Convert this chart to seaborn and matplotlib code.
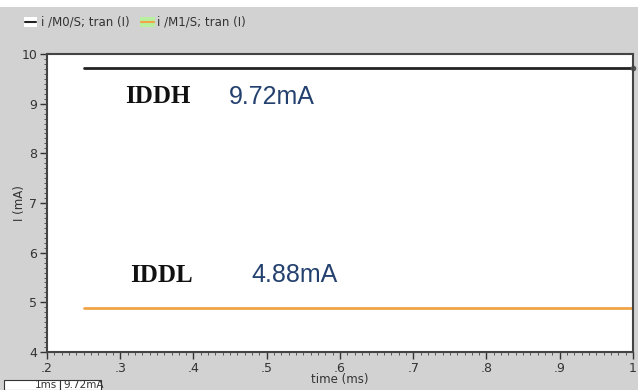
import seaborn as sns
import pandas as pd
import numpy as np
import matplotlib.pyplot as plt
import matplotlib.patches as mpatches

time_ms = [0.25, 1.0]
i_m0 = [9.72, 9.72]
i_m1 = [4.88, 4.88]
series_names = ['i /M0/S; tran (I)', 'i /M1/S; tran (I)']
xtick_vals = [0.2, 0.3, 0.4, 0.5, 0.6, 0.7, 0.8, 0.9, 1.0]
xtick_labels = ['.2', '.3', '.4', '.5', '.6', '.7', '.8', '.9', '1']
ytick_vals = [4, 5, 6, 7, 8, 9, 10]
note_names = ['IDDH', 'IDDL']
note_values = ['9.72mA', '4.88mA']

df = pd.DataFrame({'time': time_ms * 2,
                   'I': i_m0 + i_m1,
                   'sig': [series_names[0]] * 2 + [series_names[1]] * 2})

sns.set_style('ticks')
plt.rcParams['font.family'] = ['DejaVu Sans']
fig = plt.figure(figsize=(6.38, 3.9), dpi=100)
fig.patch.set_facecolor('#d2d2d2')
# white strip at the very top
fig.add_artist(mpatches.Rectangle((0, 1-7/390), 1, 7/390, transform=fig.transFigure,
                                  facecolor='white', edgecolor='none'))
ax = fig.add_axes([47/638, 1-352/390, 586/638, 298/390])
ax.set_facecolor('white')
sns.lineplot(data=df, x='time', y='I', hue='sig',
             palette={series_names[0]: '#222222', series_names[1]: '#f0a448'},
             linewidth=2, legend=False, ax=ax)
ax.plot([1.0], [i_m0[-1]], marker='o', ms=3, color='#555555', clip_on=False)

ax.set_xlim(0.2, 1.0)
ax.set_ylim(4, 10)
ax.set_xticks(xtick_vals)
ax.set_xticklabels(xtick_labels)
ax.set_yticks(ytick_vals)
ax.set_xticks(np.arange(0.2, 1.0001, 0.01), minor=True)
ax.set_yticks(np.arange(4, 10.0001, 0.1), minor=True)
ax.tick_params(axis='both', which='major', length=5, width=1, labelsize=9, color='#333333',
               labelcolor='#333333', pad=2)
ax.tick_params(axis='both', which='minor', length=2.5, width=0.6, color='#444444')
for s in ax.spines.values():
    s.set_color('#444444')
    s.set_linewidth(1.5)
ax.set_xlabel('time (ms)', fontsize=8.5, color='#333333', labelpad=-1)
ax.set_ylabel('I (mA)', fontsize=8.5, color='#333333', labelpad=-3)

# annotations (label / value) placed in axes fraction
pos = [((0.133, 0.856), (0.31, 0.856)), ((0.142, 0.258), (0.348, 0.258))]
for name, val, (pn, pv) in zip(note_names, note_values, pos):
    ax.text(pn[0], pn[1], name, fontsize=18, fontweight='bold', family='Liberation Serif',
            color='#111111', va='center', transform=ax.transAxes)
    ax.text(pv[0], pv[1], val, fontsize=18, family='Liberation Sans', color='#23406e',
            va='center', transform=ax.transAxes)

# legend strip
fig.add_artist(mpatches.Rectangle((24/638, 1-27/390), 13/638, 10/390, transform=fig.transFigure,
                                  facecolor='white', edgecolor='none'))
fig.add_artist(plt.Line2D([25/638, 36/638], [1-22/390, 1-22/390], color='#222222', lw=1.5))
fig.text(41/638, 1-22/390, series_names[0], fontsize=8.5, color='#333333', va='center')
fig.add_artist(mpatches.Rectangle((140/638, 1-27/390), 15/638, 10/390, transform=fig.transFigure,
                                  facecolor='#b8f0a0', edgecolor='none'))
fig.add_artist(plt.Line2D([141/638, 154/638], [1-22/390, 1-22/390], color='#f0a448', lw=1.5))
fig.text(157/638, 1-22/390, series_names[1], fontsize=8.5, color='#333333', va='center')

# cursor readout boxes at bottom left
fig.add_artist(mpatches.Rectangle((4/638, 0), 56/638, 10/390, transform=fig.transFigure,
                                  facecolor='white', edgecolor='#333333', lw=0.8))
fig.add_artist(mpatches.Rectangle((60/638, 0), 41/638, 10/390, transform=fig.transFigure,
                                  facecolor='white', edgecolor='#333333', lw=0.8))
fig.text(57/638, 0.5/390, '1ms', fontsize=7.5, color='#333333', ha='right', va='bottom')
fig.text(63/638, 0.5/390, '9.72mA', fontsize=7.5, color='#333333', ha='left', va='bottom')

fig.savefig('out.png', dpi=100, facecolor=fig.get_facecolor())
